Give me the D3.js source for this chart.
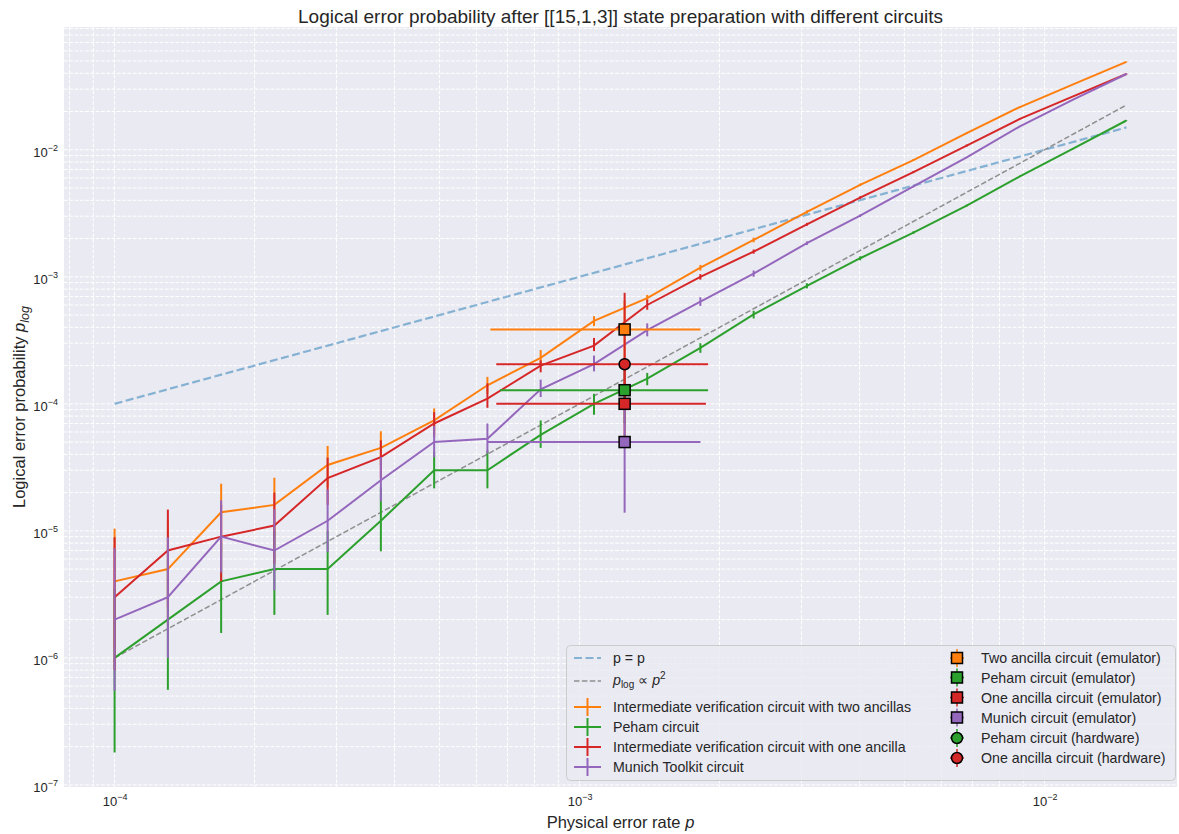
<!DOCTYPE html>
<html>
<head>
<meta charset="utf-8">
<script src="https://cdn.jsdelivr.net/npm/d3@7"></script>
<style>
body { margin: 0; background: #fff; }
svg text { font-family: "Liberation Sans", Arial, sans-serif; fill: #262626; }
</style>
</head>
<body>
<svg id="chart" width="1179" height="834"></svg>
<script>

// physical error rates (x) shared by the four simulated circuits
var physRates = [1.0e-4, 1.302e-4, 1.695e-4, 2.206e-4, 2.872e-4, 3.738e-4, 4.867e-4, 6.336e-4, 8.248e-4, 1.074e-3,
                 1.398e-3, 1.819e-3, 2.368e-3, 3.083e-3, 4.013e-3, 5.224e-3, 6.801e-3, 8.852e-3, 1.152e-2, 1.5e-2];

// intermediate verification, two ancillas
var twoAnc   = [4.0e-6, 5.0e-6, 1.4e-5, 1.6e-5, 3.3e-5, 4.5e-5, 7.4e-5, 1.4e-4, 2.3e-4, 4.5e-4,
                6.8e-4, 1.18e-3, 1.95e-3, 3.24e-3, 5.3e-3, 8.3e-3, 1.35e-2, 2.17e-2, 3.27e-2, 4.92e-2];
var twoAncLo = [1.2e-6, 1.8e-6, 7.0e-6, 9.0e-6, 2.2e-5, 3.3e-5, 5.8e-5, 1.2e-4, 2.0e-4, 4.1e-4,
                6.4e-4, 1.12e-3, 1.87e-3, 3.15e-3, 5.18e-3, 8.2e-3, 1.33e-2, 2.15e-2, 3.25e-2, 4.89e-2];
var twoAncHi = [1.04e-5, 1.2e-5, 2.35e-5, 2.62e-5, 4.66e-5, 6.08e-5, 9.2e-5, 1.63e-4, 2.65e-4, 4.9e-4,
                7.2e-4, 1.24e-3, 2.03e-3, 3.33e-3, 5.42e-3, 8.45e-3, 1.37e-2, 2.19e-2, 3.29e-2, 4.95e-2];

// Peham circuit
var peham    = [1.0e-6, 2.0e-6, 4.0e-6, 5.0e-6, 5.0e-6, 1.2e-5, 3.0e-5, 3.0e-5, 5.7e-5, 1.0e-4,
                1.58e-4, 2.76e-4, 5.06e-4, 8.5e-4, 1.4e-3, 2.23e-3, 3.64e-3, 6.17e-3, 1.02e-2, 1.7e-2];
var pehamLo  = [1.8e-7, 5.6e-7, 1.57e-6, 2.18e-6, 2.18e-6, 6.9e-6, 2.16e-5, 2.16e-5, 4.5e-5, 8.2e-5,
                1.4e-4, 2.52e-4, 4.7e-4, 8.1e-4, 1.35e-3, 2.18e-3, 3.58e-3, 6.1e-3, 1.01e-2, 1.69e-2];
var pehamHi  = [3.5e-6, 6.0e-6, 8.0e-6, 1.0e-5, 1.0e-5, 2.2e-5, 4.2e-5, 4.3e-5, 7.4e-5, 1.2e-4,
                1.75e-4, 3.0e-4, 5.4e-4, 8.9e-4, 1.45e-3, 2.28e-3, 3.7e-3, 6.25e-3, 1.03e-2, 1.71e-2];

// intermediate verification, one ancilla
var oneAnc   = [3.0e-6, 7.0e-6, 9.0e-6, 1.1e-5, 2.6e-5, 3.8e-5, 7.0e-5, 1.1e-4, 2.0e-4, 2.87e-4,
                6.0e-4, 1.0e-3, 1.58e-3, 2.59e-3, 4.2e-3, 6.67e-3, 1.08e-2, 1.75e-2, 2.63e-2, 3.95e-2];
var oneAncLo = [8.0e-7, 2.5e-6, 4.0e-6, 5.5e-6, 1.6e-5, 2.6e-5, 5.5e-5, 9.3e-5, 1.77e-4, 2.6e-4,
                5.5e-4, 9.5e-4, 1.52e-3, 2.52e-3, 4.1e-3, 6.55e-3, 1.06e-2, 1.73e-2, 2.61e-2, 3.92e-2];
var oneAncHi = [8.9e-6, 1.47e-5, 1.6e-5, 2.0e-5, 3.77e-5, 5.16e-5, 8.6e-5, 1.45e-4, 2.2e-4, 3.3e-4,
                6.6e-4, 1.05e-3, 1.64e-3, 2.66e-3, 4.3e-3, 6.8e-3, 1.1e-2, 1.77e-2, 2.65e-2, 3.98e-2];

// Munich Toolkit circuit
var munich   = [2.0e-6, 3.0e-6, 9.0e-6, 7.0e-6, 1.2e-5, 2.5e-5, 5.0e-5, 5.3e-5, 1.3e-4, 2.05e-4,
                3.8e-4, 6.37e-4, 1.06e-3, 1.84e-3, 3.03e-3, 5.14e-3, 8.7e-3, 1.53e-2, 2.48e-2, 3.95e-2];
var munichLo = [5.5e-7, 1.0e-6, 4.7e-6, 3.4e-6, 6.8e-6, 1.71e-5, 3.8e-5, 4.05e-5, 1.13e-4, 1.8e-4,
                3.4e-4, 5.9e-4, 1.0e-3, 1.78e-3, 2.96e-3, 5.06e-3, 8.6e-3, 1.52e-2, 2.46e-2, 3.93e-2];
var munichHi = [7.3e-6, 8.9e-6, 1.74e-5, 1.48e-5, 2.11e-5, 3.81e-5, 6.7e-5, 7.0e-5, 1.55e-4, 2.4e-4,
                4.3e-4, 6.9e-4, 1.12e-3, 1.9e-3, 3.1e-3, 5.22e-3, 8.8e-3, 1.54e-2, 2.5e-2, 3.97e-2];

// reference lines (end points)
var identX = [1.0e-4, 1.5e-2];
var identY = [1.0e-4, 1.5e-2];
var quadX  = [1.0e-4, 1.5e-2];
var quadY  = [1.0e-6, 2.25e-2];

// emulator / hardware runs (Peham hardware gave no logical error -> not plotted)
var runNames = ['Two ancilla circuit (emulator)', 'Peham circuit (emulator)', 'One ancilla circuit (emulator)',
                'Munich circuit (emulator)', 'Peham circuit (hardware)', 'One ancilla circuit (hardware)'];
var runRate  = [1.25e-3, 1.25e-3, 1.25e-3, 1.25e-3, 1.25e-3, 1.25e-3];
var runRateLo = [6.43e-4, 6.74e-4, 6.62e-4, 6.35e-4, 6.74e-4, 6.62e-4];
var runRateHi = [1.82e-3, 1.89e-3, 1.87e-3, 1.82e-3, 1.89e-3, 1.89e-3];
var runVal   = [3.85e-4, 1.28e-4, 1.0e-4, 5.0e-5, null, 2.05e-4];
var runValLo = [2.2e-4, 7.0e-5, 5.5e-5, 1.39e-5, null, 9.0e-5];
var runValHi = [6.5e-4, 2.2e-4, 2.0e-4, 1.2e-4, null, 7.48e-4];

var seriesNames = ['Intermediate verification circuit with two ancillas', 'Peham circuit',
                   'Intermediate verification circuit with one ancilla', 'Munich Toolkit circuit'];

//---------------------------------------------------------------------------------------
// SETUP
//---------------------------------------------------------------------------------------

var C = { orange: '#ff7f0e', green: '#2ca02c', red: '#d62728', purple: '#9467bd', blue: '#1f77b4' };
var seriesColors = [C.orange, C.green, C.red, C.purple];
var runColors = [C.orange, C.green, C.red, C.purple, C.green, C.red];
var runShapes = ['square', 'square', 'square', 'square', 'circle', 'circle'];

var series = [
    { v: twoAnc, lo: twoAncLo, hi: twoAncHi },
    { v: peham,  lo: pehamLo,  hi: pehamHi },
    { v: oneAnc, lo: oneAncLo, hi: oneAncHi },
    { v: munich, lo: munichLo, hi: munichHi }
];

var plot = { left: 64, right: 1177, top: 27, bottom: 787 };
var svg = d3.select('#chart');

// matplotlib-like 5% margins on a log axis
function logPad(lo, hi) {
    var a = Math.log10(lo), b = Math.log10(hi), m = (b - a) * 0.05;
    return [Math.pow(10, a - m), Math.pow(10, b + m)];
}

var allLo = d3.min([].concat(twoAncLo, pehamLo, oneAncLo, munichLo));
var allHi = d3.max([].concat(twoAncHi, pehamHi, oneAncHi, munichHi));

var x = d3.scaleLog().domain(logPad(d3.min(physRates), d3.max(physRates))).range([plot.left, plot.right]);
var y = d3.scaleLog().domain(logPad(allLo, allHi)).range([plot.bottom, plot.top]);

svg.append('rect')
    .attr('x', plot.left).attr('y', plot.top)
    .attr('width', plot.right - plot.left).attr('height', plot.bottom - plot.top)
    .attr('fill', '#eaeaf2');

//---------------------------------------------------------------------------------------
// GRID (major + minor, dashed)
//---------------------------------------------------------------------------------------

function logGrid(scale) {
    var d = scale.domain(), out = [];
    for (var e = Math.floor(Math.log10(d[0])); e <= Math.ceil(Math.log10(d[1])); e++) {
        for (var k = 1; k < 10; k++) {
            var v = k * Math.pow(10, e);
            if (v >= d[0] && v <= d[1]) out.push(v);
        }
    }
    return out;
}

var grid = svg.append('g').attr('class', 'grid');
grid.selectAll('.gx').data(logGrid(x)).enter().append('line')
    .attr('x1', function (d) { return x(d); }).attr('x2', function (d) { return x(d); })
    .attr('y1', plot.top).attr('y2', plot.bottom)
    .attr('stroke', '#fff').attr('stroke-width', 1).attr('stroke-dasharray', '3.7,1.6');
grid.selectAll('.gy').data(logGrid(y)).enter().append('line')
    .attr('y1', function (d) { return y(d); }).attr('y2', function (d) { return y(d); })
    .attr('x1', plot.left).attr('x2', plot.right)
    .attr('stroke', '#fff').attr('stroke-width', 1).attr('stroke-dasharray', '3.7,1.6');

//---------------------------------------------------------------------------------------
// AXES
//---------------------------------------------------------------------------------------

var expo = { '-7': '\u22127', '-6': '\u22126', '-5': '\u22125', '-4': '\u22124', '-3': '\u22123', '-2': '\u22122' };

function powerLabels(sel) {
    sel.selectAll('.tick text').each(function (d) {
        var t = d3.select(this).text('');
        t.append('tspan').text('10');
        t.append('tspan').attr('dy', -6).attr('font-size', 9).text(expo[String(Math.round(Math.log10(d)))]);
    });
    sel.select('.domain').remove();
}

var xAxis = d3.axisBottom(x).tickValues([1e-4, 1e-3, 1e-2]).tickSize(0).tickPadding(10).tickFormat(function () { return ''; });
svg.append('g').attr('transform', 'translate(0,' + plot.bottom + ')')
    .call(xAxis)
    .call(function (g) { g.selectAll('.tick text').attr('font-size', 13).attr('fill', '#262626'); })
    .call(powerLabels);

var yAxis = d3.axisLeft(y).tickValues([1e-7, 1e-6, 1e-5, 1e-4, 1e-3, 1e-2]).tickSize(0).tickPadding(6).tickFormat(function () { return ''; });
svg.append('g').attr('transform', 'translate(' + plot.left + ',0)')
    .call(yAxis)
    .call(function (g) { g.selectAll('.tick text').attr('font-size', 13).attr('fill', '#262626').attr('dy', '0.5em'); })
    .call(powerLabels);

// titles
svg.append('text').attr('x', (plot.left + plot.right) / 2).attr('y', 22.5)
    .attr('text-anchor', 'middle').attr('font-size', 19)
    .text('Logical error probability after [[15,1,3]] state preparation with different circuits');

var xl = svg.append('text').attr('x', (plot.left + plot.right) / 2).attr('y', 828)
    .attr('text-anchor', 'middle').attr('font-size', 16.5);
xl.append('tspan').text('Physical error rate ');
xl.append('tspan').attr('font-style', 'italic').text('p');

var yl = svg.append('text').attr('transform', 'translate(25,' + ((plot.top + plot.bottom) / 2) + ') rotate(-90)')
    .attr('text-anchor', 'middle').attr('font-size', 16.5);
yl.append('tspan').text('Logical error probability ');
yl.append('tspan').attr('font-style', 'italic').text('p');
yl.append('tspan').attr('font-style', 'italic').attr('font-size', 12.5).attr('dy', 4).text('log');

//---------------------------------------------------------------------------------------
// REFERENCE LINES
//---------------------------------------------------------------------------------------

var line2 = d3.line().x(function (d) { return x(d[0]); }).y(function (d) { return y(d[1]); });

svg.append('path').datum(d3.zip(identX, identY)).attr('d', line2)
    .attr('fill', 'none').attr('stroke', C.blue).attr('stroke-opacity', 0.5)
    .attr('stroke-width', 2.2).attr('stroke-dasharray', '8,3.5');
svg.append('path').datum(d3.zip(quadX, quadY)).attr('d', line2)
    .attr('fill', 'none').attr('stroke', '#7f7f7f').attr('stroke-opacity', 0.85)
    .attr('stroke-width', 1.5).attr('stroke-dasharray', '5.5,2.4');

//---------------------------------------------------------------------------------------
// SIMULATED SERIES WITH ERROR BARS
//---------------------------------------------------------------------------------------

series.forEach(function (s, si) {
    var g = svg.append('g');
    var pts = physRates.map(function (p, i) { return { p: p, v: s.v[i], lo: s.lo[i], hi: s.hi[i] }; });
    g.append('path').datum(pts)
        .attr('d', d3.line().x(function (d) { return x(d.p); }).y(function (d) { return y(d.v); }))
        .attr('fill', 'none').attr('stroke', seriesColors[si]).attr('stroke-width', 2);
    g.selectAll('.eb').data(pts).enter().append('line')
        .attr('x1', function (d) { return x(d.p); }).attr('x2', function (d) { return x(d.p); })
        .attr('y1', function (d) { return y(d.lo); }).attr('y2', function (d) { return y(d.hi); })
        .attr('stroke', seriesColors[si]).attr('stroke-width', 2);
});

//---------------------------------------------------------------------------------------
// EMULATOR / HARDWARE POINTS
//---------------------------------------------------------------------------------------

var runs = runNames.map(function (n, i) {
    return { name: n, p: runRate[i], pLo: runRateLo[i], pHi: runRateHi[i], v: runVal[i], lo: runValLo[i], hi: runValHi[i],
             color: runColors[i], shape: runShapes[i] };
});
var shown = runs.filter(function (d) { return d.v !== null; });

var rg = svg.append('g');
shown.forEach(function (d) {
    rg.append('line').attr('x1', x(d.pLo)).attr('x2', x(d.pHi)).attr('y1', y(d.v)).attr('y2', y(d.v))
        .attr('stroke', d.color).attr('stroke-width', 2);
    rg.append('line').attr('x1', x(d.p)).attr('x2', x(d.p)).attr('y1', y(d.lo)).attr('y2', y(d.hi))
        .attr('stroke', d.color).attr('stroke-width', 2);
});

function drawMarker(g, shape, cx, cy, color) {
    if (shape === 'square') {
        g.append('rect').attr('x', cx - 5.5).attr('y', cy - 5.5).attr('width', 11).attr('height', 11)
            .attr('fill', color).attr('stroke', '#000').attr('stroke-width', 1.5);
    } else {
        g.append('circle').attr('cx', cx).attr('cy', cy).attr('r', 5.5)
            .attr('fill', color).attr('stroke', '#000').attr('stroke-width', 1.5);
    }
}
shown.forEach(function (d) { drawMarker(rg, d.shape, x(d.p), y(d.v), d.color); });

//---------------------------------------------------------------------------------------
// LEGEND
//---------------------------------------------------------------------------------------

var lg = svg.append('g');
lg.append('rect').attr('x', 566.5).attr('y', 645.5).attr('width', 609).attr('height', 135).attr('rx', 4)
    .attr('fill', '#eaeaf2').attr('fill-opacity', 0.8).attr('stroke', '#cccccc').attr('stroke-width', 1);

var hx0 = 574, hx1 = 601, tx1 = 613, fs = 14.2;
var rowsL = [658, 681, 707, 727, 747, 767];

// dashed reference entries
lg.append('line').attr('x1', hx0).attr('x2', hx1).attr('y1', rowsL[0]).attr('y2', rowsL[0])
    .attr('stroke', C.blue).attr('stroke-opacity', 0.5).attr('stroke-width', 2.2).attr('stroke-dasharray', '8,3.5');
lg.append('text').attr('x', tx1).attr('y', rowsL[0] + 5).attr('font-size', fs).text('p = p');

lg.append('line').attr('x1', hx0).attr('x2', hx1).attr('y1', rowsL[1]).attr('y2', rowsL[1])
    .attr('stroke', '#7f7f7f').attr('stroke-opacity', 0.85).attr('stroke-width', 1.5).attr('stroke-dasharray', '5.5,2.4');
var qt = lg.append('text').attr('x', tx1).attr('y', rowsL[1] + 4).attr('font-size', fs);
qt.append('tspan').attr('font-style', 'italic').text('p');
qt.append('tspan').attr('font-size', 10).attr('dy', 3).text('log');
qt.append('tspan').attr('dy', -3).text(' \u221D ');
qt.append('tspan').attr('font-style', 'italic').text('p');
qt.append('tspan').attr('font-size', 10).attr('dy', -6).text('2');

seriesNames.forEach(function (n, i) {
    var yy = rowsL[i + 2];
    lg.append('line').attr('x1', hx0).attr('x2', hx1).attr('y1', yy).attr('y2', yy)
        .attr('stroke', seriesColors[i]).attr('stroke-width', 2);
    lg.append('line').attr('x1', (hx0 + hx1) / 2).attr('x2', (hx0 + hx1) / 2).attr('y1', yy - 9).attr('y2', yy + 9)
        .attr('stroke', seriesColors[i]).attr('stroke-width', 2);
    lg.append('text').attr('x', tx1).attr('y', yy + 5).attr('font-size', fs).text(n);
});

var mx = 957, tx2 = 981;
var rowsR = [658, 677.5, 697.5, 717.5, 738, 758];
runs.forEach(function (d, i) {
    var yy = rowsR[i];
    lg.append('line').attr('x1', mx - 7).attr('x2', mx + 7).attr('y1', yy).attr('y2', yy)
        .attr('stroke', d.color).attr('stroke-width', 1.5);
    lg.append('line').attr('x1', mx).attr('x2', mx).attr('y1', yy - 9).attr('y2', yy + 9)
        .attr('stroke', d.color).attr('stroke-width', 1.5);
    drawMarker(lg, d.shape, mx, yy, d.color);
    lg.append('text').attr('x', tx2).attr('y', yy + 5).attr('font-size', fs).text(d.name);
});

</script>
</body>
</html>
